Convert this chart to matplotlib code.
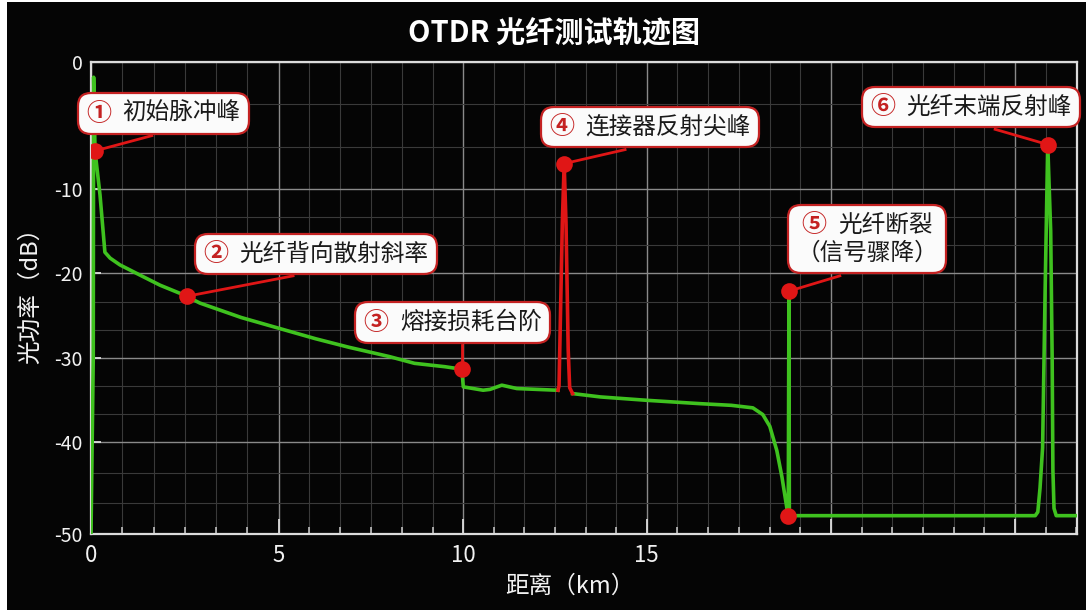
import numpy as np
import matplotlib
matplotlib.use("Agg")
import matplotlib.pyplot as plt
from matplotlib.ticker import FixedLocator, FixedFormatter, MultipleLocator
from matplotlib.offsetbox import TextArea, HPacker, VPacker, AnnotationBbox
from matplotlib.patches import Rectangle

plt.rcParams['font.family'] = ['Noto Sans CJK SC', 'DejaVu Sans']

# ---------------- data ----------------
trace_km = [0.0, 0.06, 0.07, 0.107, 0.24, 0.37, 0.51, 0.77, 1.30, 1.84, 2.56, 2.72, 2.90,
            4.00, 4.95, 6.00, 6.90, 8.00, 8.68, 9.50, 9.96, 10.00, 10.54, 10.73, 11.05,
            11.46, 12.00, 12.55,
            12.58, 12.61, 12.63, 12.70, 12.75, 12.80, 12.86, 12.90, 12.98,
            13.74, 15.00, 16.45, 17.30, 17.88, 18.15, 18.34, 18.53, 18.67, 18.80, 18.84,
            18.86, 18.87, 20.0, 25.0, 25.55, 25.62, 25.68, 25.75, 25.82, 25.89, 25.97,
            26.01, 26.03, 26.06, 26.12, 26.68]
trace_db = [-50.0, -30.0, -1.2, -7.0, -10.7, -17.5, -18.2, -19.0, -20.2, -21.4, -22.7, -23.1, -23.5,
            -25.2, -26.4, -27.7, -28.7, -29.8, -30.6, -31.0, -31.3, -33.4, -33.8, -33.7, -33.2,
            -33.6, -33.7, -33.8,
            -33.8, -33.3, -29.0, -14.0, -8.0, -14.0, -29.0, -33.5, -34.2,
            -34.6, -35.0, -35.4, -35.6, -35.9, -36.7, -38.1, -40.9, -43.8, -47.1, -48.0,
            -22.1, -48.0, -48.0, -48.0, -48.0, -47.6, -45.0, -40.6, -21.7, -6.5, -15.0,
            -30.0, -43.0, -47.2, -48.0, -48.0]
reflect_start_km = 12.58
reflect_end_km = 12.98

event_ids = ["①", "②", "③", "④", "⑤", "⑥"]
event_names = ["初始脉冲峰", "光纤背向散射斜率", "熔接损耗台阶", "连接器反射尖峰", "光纤断裂", "光纤末端反射峰"]
event_notes = ["", "", "", "", "（信号骤降）", ""]
event_km = [0.107, 2.56, 9.96, 12.75, 18.86, 25.89]
event_db = [-7.0, -22.7, -31.3, -8.0, -22.1, -6.5]
break_floor_km = [18.84]
break_floor_db = [-48.0]

x_ticks = [0, 5, 10, 15, 20, 25]
x_tick_labels = ["0", "5", "10", "15", "", ""]
y_ticks = [-50, -40, -30, -20, -10, 0]
y_tick_labels = ["-50", "-40", "-30", "-20", "-10", "0"]

title = "OTDR 光纤测试轨迹图"
x_label = "距离（km）"
y_label = "光功率（dB）"

# ---------------- layout ----------------
W, H = 1086, 610
# axis positions of the ticks (pixel spacing of the reference grid)
X_VAL = [0, 5, 10, 15, 20, 25, 30]
X_POS = [0, 187.7, 372.3, 555.7, 740.0, 924.0, 1108.0]
Y_VAL = [-60, -50, -40, -30, -20, -10, 0, 10]
Y_POS = [-92, 0, 91.7, 175.7, 260.7, 345.0, 472.0, 599.0]

label_box_xy = [(1.93, -4.06), (6.01, -17.71), (9.71, -25.79), (15.10, -5.12), (20.98, -15.93), (23.80, -3.54)]
label_attach_xy = [(1.62, -5.8), (5.39, -20.3), (9.96, -28.4), (14.41, -6.9), (20.24, -20.3), (24.46, -5.3)]

GREEN = "#3fc21f"
RED = "#e01616"
BOX_RED = "#c42222"

fig = plt.figure(figsize=(W / 100, H / 100), dpi=100, facecolor="white")
fig.add_artist(Rectangle((7 / W, 0), 1, 608 / H, transform=fig.transFigure,
                         facecolor="#050505", edgecolor="none", zorder=-10))

ax = fig.add_axes([91 / W, 1 - 534 / H, (1077 - 91) / W, (534 - 62) / H])
ax.set_facecolor("#050505")

ax.set_xscale("function", functions=(lambda v: np.interp(v, X_VAL, X_POS),
                                     lambda p: np.interp(p, X_POS, X_VAL)))
ax.set_yscale("function", functions=(lambda v: np.interp(v, Y_VAL, Y_POS),
                                     lambda p: np.interp(p, Y_POS, Y_VAL)))
ax.set_xlim(0, 26.685)
ax.set_ylim(-50, 0)

ax.xaxis.set_major_locator(FixedLocator(x_ticks))
ax.xaxis.set_major_formatter(FixedFormatter(x_tick_labels))
ax.xaxis.set_minor_locator(MultipleLocator(5 / 6))
ax.yaxis.set_major_locator(FixedLocator(y_ticks))
ax.yaxis.set_major_formatter(FixedFormatter(y_tick_labels))
ax.yaxis.set_minor_locator(MultipleLocator(10 / 3))

ax.grid(which="major", color="#8a8a8a", lw=1.0, zorder=0)
ax.grid(which="minor", color="#3a3a3a", lw=0.8, zorder=0)
ax.set_axisbelow(True)

ax.tick_params(axis="x", which="major", direction="in", length=11, width=1.3, color="#dcdcdc",
               labelsize=16, labelcolor="#f2f2f2", pad=7)
ax.tick_params(axis="x", which="minor", direction="in", length=5, width=1.1, color="#cfcfcf")
ax.tick_params(axis="y", which="major", direction="in", length=7, width=1.3, color="#dcdcdc",
               labelsize=14, labelcolor="#f2f2f2", pad=6)
ax.tick_params(axis="y", which="minor", length=0)
for s in ax.spines.values():
    s.set_color("#dcdcdc")
    s.set_linewidth(1.6)

# ---------------- trace ----------------
tx = np.array(trace_km)
ty = np.array(trace_db)
pre = tx <= reflect_start_km
post = tx >= reflect_end_km
mid = (tx >= reflect_start_km) & (tx <= reflect_end_km)
ax.plot(tx[pre], ty[pre], color=GREEN, lw=2.6, zorder=3, solid_joinstyle="round")
ax.plot(tx[post], ty[post], color=GREEN, lw=2.6, zorder=3, solid_joinstyle="round")
ax.plot(tx[mid], ty[mid], color=RED, lw=2.6, zorder=3, solid_joinstyle="round")

# ---------------- annotations ----------------
for i in range(len(event_ids)):
    ax.plot([event_km[i], label_attach_xy[i][0]], [event_db[i], label_attach_xy[i][1]],
            color=RED, lw=2.0, zorder=4)
ax.plot(event_km, event_db, "o", color=RED, ms=12, mec="none", zorder=5)
ax.plot(break_floor_km, break_floor_db, "o", color=RED, ms=12, mec="none", zorder=5)

for i in range(len(event_ids)):
    num = TextArea(event_ids[i], textprops=dict(color=BOX_RED, fontsize=18, fontweight="bold"))
    txt = TextArea(event_names[i], textprops=dict(color="#1a1a1a", fontsize=17))
    row = HPacker(children=[num, txt], sep=8, pad=0, align="center")
    if event_notes[i]:
        note = TextArea(event_notes[i], textprops=dict(color="#1a1a1a", fontsize=17))
        content = VPacker(children=[row, note], sep=3, pad=0, align="center")
    else:
        content = row
    ab = AnnotationBbox(content, label_box_xy[i], xycoords="data", frameon=True,
                        box_alignment=(0.5, 0.5), pad=0.35, fontsize=17,
                        bboxprops=dict(boxstyle="round,pad=0.35,rounding_size=0.55",
                                       facecolor="#fbfbfb", edgecolor=BOX_RED, lw=1.6),
                        zorder=7, annotation_clip=False)
    ax.add_artist(ab)

# ---------------- texts ----------------
fig.text(553.5 / W, 1 - 32.5 / H, title, ha="center", va="center", color="white",
         fontsize=21, fontweight="bold")
fig.text(570 / W, 1 - 586 / H, x_label, ha="center", va="center", color="#f2f2f2", fontsize=17)
fig.text(30 / W, 1 - 290 / H, y_label, ha="center", va="center", color="#f2f2f2",
         fontsize=17, rotation=90)

fig.savefig("out.png", dpi=100, facecolor=fig.get_facecolor())
